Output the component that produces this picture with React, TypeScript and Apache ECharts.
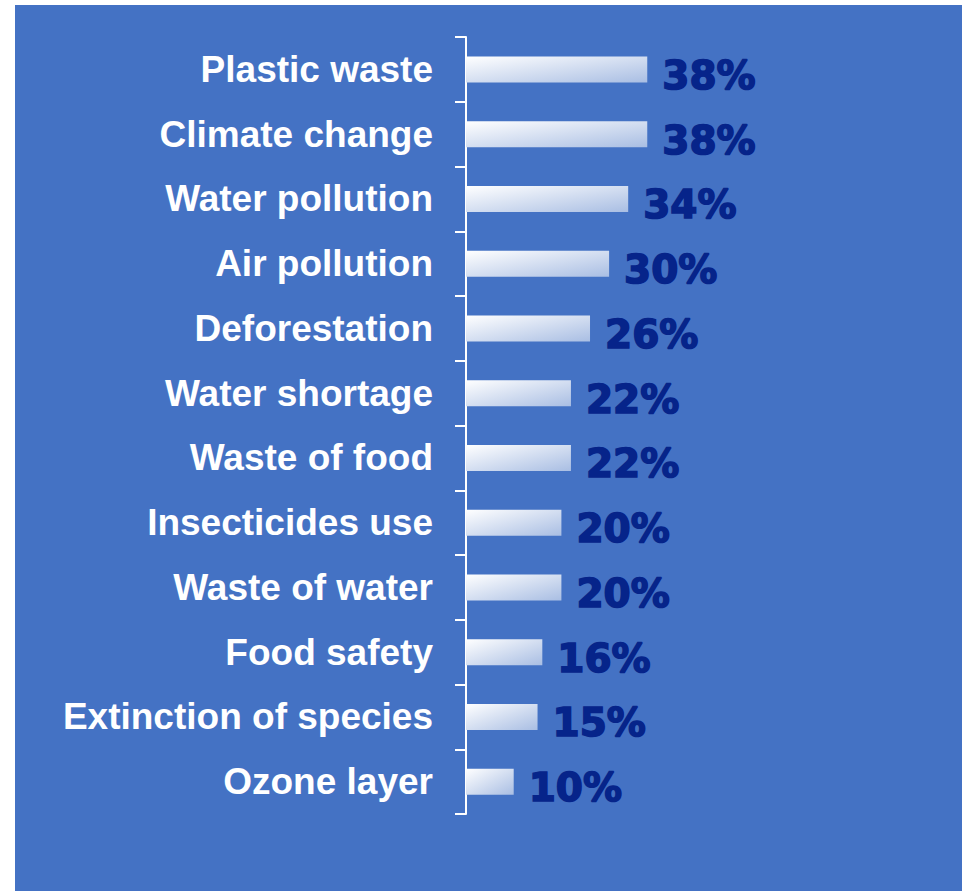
import React, { useEffect, useRef } from "react";
import * as echarts from "echarts";

const categories = [
  "Plastic waste",
  "Climate change",
  "Water pollution",
  "Air pollution",
  "Deforestation",
  "Water shortage",
  "Waste of food",
  "Insecticides use",
  "Waste of water",
  "Food safety",
  "Extinction of species",
  "Ozone layer",
];
const values = [38, 38, 34, 30, 26, 22, 22, 20, 20, 16, 15, 10];

export default function App() {
  const ref = useRef<HTMLDivElement>(null);
  useEffect(() => {
    document.body.style.margin = "0";
    const chart = echarts.init(ref.current!, null, { renderer: "svg" });
    chart.setOption({
      animation: false,
      backgroundColor: "#ffffff",
      graphic: [
        {
          type: "rect",
          z: -10,
          shape: { x: 15, y: 5, width: 947, height: 890 },
          style: { fill: "#4472C4" },
          silent: true,
        },
      ],
      grid: { left: 466, right: 26, top: 37, bottom: 77, containLabel: false },
      xAxis: {
        type: "value",
        min: 0,
        max: 100,
        show: false,
      },
      yAxis: {
        type: "category",
        data: categories,
        inverse: true,
        axisLine: { show: true, lineStyle: { color: "#ffffff", width: 2 } },
        axisTick: { show: true, length: 11, lineStyle: { color: "#ffffff", width: 2 } },
        axisLabel: {
          color: "#ffffff",
          fontFamily: "Liberation Sans, Arial, sans-serif",
          fontWeight: "bold",
          fontSize: 37,
          margin: 33,
        },
        splitLine: { show: false },
      },
      series: [
        {
          type: "bar",
          data: values,
          barWidth: 26,
          itemStyle: {
            color: new echarts.graphic.LinearGradient(0, 0, 1, 1, [
              { offset: 0, color: "#ffffff" },
              { offset: 1, color: "#a9bee3" },
            ]),
          },
          label: {
            show: true,
            position: "right",
            distance: 15,
            offset: [0, 6],
            formatter: "{c}%",
            color: "#06248a",
            textBorderColor: "#06248a",
            textBorderWidth: 1.6,
            fontFamily: "DejaVu Sans, Verdana, sans-serif",
            fontWeight: "bold",
            fontSize: 39,
          },
        },
      ],
    });
    return () => chart.dispose();
  }, []);
  return (
    <div
      ref={ref}
      style={{ position: "absolute", left: 0, top: 0, width: 969, height: 891 }}
    />
  );
}
